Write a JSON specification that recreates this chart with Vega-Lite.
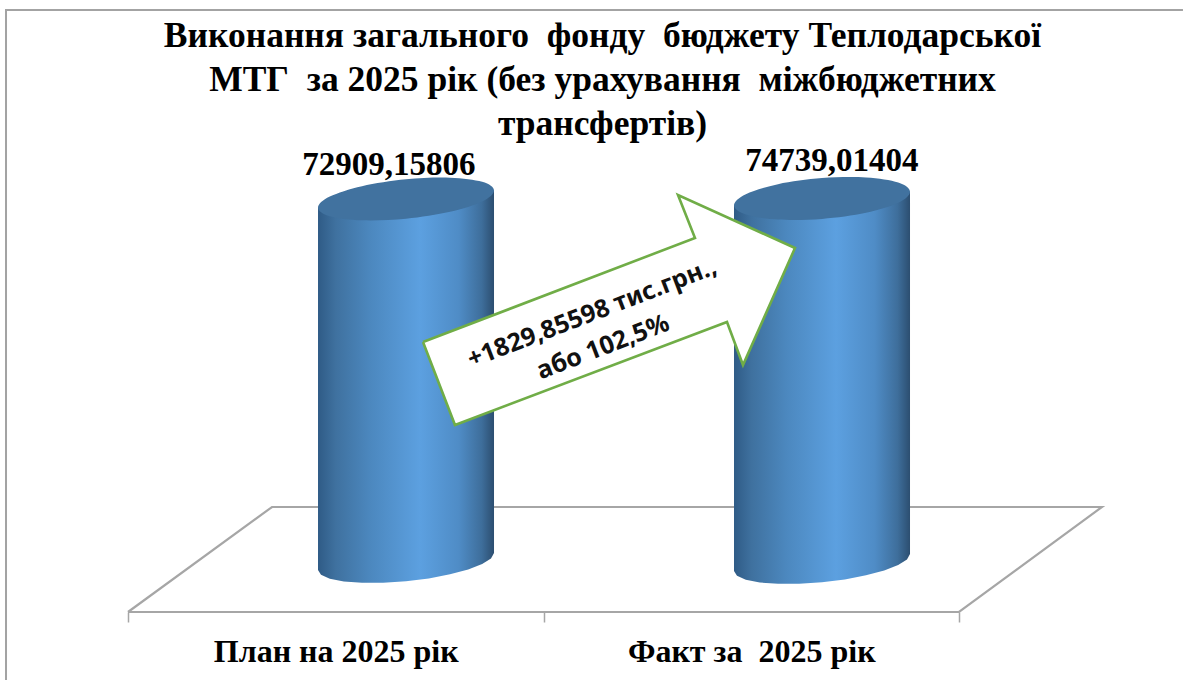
{
"$schema":"https://vega.github.io/schema/vega-lite/v6.json",
"width":831,"height":462,"autosize":{"type":"none"},
"padding":{"left":128,"right":224,"top":150,"bottom":68},
"background":"white",
"title":{"text":["Виконання загального\u00a0 фонду\u00a0 бюджету Теплодарської","МТГ\u00a0 за 2025 рік (без урахування\u00a0 міжбюджетних","трансфертів)"],"font":"Liberation Serif","fontSize":35.5,"fontWeight":"bold","color":"#000000","lineHeight":44,"anchor":"middle","frame":"group","dx":59,"dy":137,"offset":0},
"config":{"view":{"stroke":null}},
"datasets":{
"frame":[{"u":-0.2936,"v":-23570,"seq":1},{"u":-0.2936,"v":110832,"seq":2},{"u":2.539,"v":110832,"seq":3}],
"floor":[{"u":0,"v":-9930,"seq":1},{"u":0.3466,"v":11133,"seq":2},{"u":2.344,"v":11133,"seq":3},{"u":2,"v":-9930,"seq":4},{"u":0,"v":-9930,"seq":5}],
"bodies":[
{"part":"План","seq":1,"u":0.4573,"v":71213},{"part":"План","seq":2,"u":0.8809,"v":74623},{"part":"План","seq":3,"u":0.8809,"v":1906},{"part":"План","seq":4,"u":0.8736,"v":822},{"part":"План","seq":5,"u":0.8524,"v":-301},{"part":"План","seq":6,"u":0.8188,"v":-1394},{"part":"План","seq":7,"u":0.775,"v":-2377},{"part":"План","seq":8,"u":0.724,"v":-3190},{"part":"План","seq":9,"u":0.6691,"v":-3761},{"part":"План","seq":10,"u":0.6142,"v":-4072},{"part":"План","seq":11,"u":0.5632,"v":-4082},{"part":"План","seq":12,"u":0.5194,"v":-3811},{"part":"План","seq":13,"u":0.4857,"v":-3260},{"part":"План","seq":14,"u":0.4645,"v":-2467},{"part":"План","seq":15,"u":0.4573,"v":-1505},{"part":"План","seq":16,"u":0.4573,"v":71213},
{"part":"Факт","seq":1,"u":1.4585,"v":71664},{"part":"Факт","seq":2,"u":1.8821,"v":74372},{"part":"Факт","seq":3,"u":1.8821,"v":1706},{"part":"Факт","seq":4,"u":1.8748,"v":622},{"part":"Факт","seq":5,"u":1.8536,"v":-501},{"part":"Факт","seq":6,"u":1.82,"v":-1594},{"part":"Факт","seq":7,"u":1.7762,"v":-2577},{"part":"Факт","seq":8,"u":1.7252,"v":-3390},{"part":"Факт","seq":9,"u":1.6703,"v":-3961},{"part":"Факт","seq":10,"u":1.6154,"v":-4272},{"part":"Факт","seq":11,"u":1.5644,"v":-4282},{"part":"Факт","seq":12,"u":1.5206,"v":-4011},{"part":"Факт","seq":13,"u":1.4869,"v":-3460},{"part":"Факт","seq":14,"u":1.4657,"v":-2667},{"part":"Факт","seq":15,"u":1.4585,"v":-1705},{"part":"Факт","seq":16,"u":1.4585,"v":71664}
],
"tops":[
{"part":"План","seq":1,"u":0.8809,"v":74623},{"part":"План","seq":2,"u":0.8524,"v":76376},{"part":"План","seq":3,"u":0.775,"v":77201},{"part":"План","seq":4,"u":0.6691,"v":76880},{"part":"План","seq":5,"u":0.5632,"v":75496},{"part":"План","seq":6,"u":0.4857,"v":73420},{"part":"План","seq":7,"u":0.4573,"v":71213},{"part":"План","seq":8,"u":0.4857,"v":69460},{"part":"План","seq":9,"u":0.5632,"v":68635},{"part":"План","seq":10,"u":0.6691,"v":68956},{"part":"План","seq":11,"u":0.775,"v":70340},{"part":"План","seq":12,"u":0.8524,"v":72417},
{"part":"Факт","seq":1,"u":1.8821,"v":74372},{"part":"Факт","seq":2,"u":1.8537,"v":76238},{"part":"Факт","seq":3,"u":1.7762,"v":77241},{"part":"Факт","seq":4,"u":1.6703,"v":77111},{"part":"Факт","seq":5,"u":1.5644,"v":75887},{"part":"Факт","seq":6,"u":1.487,"v":73891},{"part":"Факт","seq":7,"u":1.4585,"v":71664},{"part":"Факт","seq":8,"u":1.487,"v":69799},{"part":"Факт","seq":9,"u":1.5644,"v":68796},{"part":"Факт","seq":10,"u":1.6703,"v":68926},{"part":"Факт","seq":11,"u":1.7762,"v":70150},{"part":"Факт","seq":12,"u":1.8537,"v":72146}
],
"arrow":[{"seq":1,"u":0.71,"v":44232},{"seq":2,"u":1.3646,"v":65095},{"seq":3,"u":1.3237,"v":73721},{"seq":4,"u":1.6053,"v":63089},{"seq":5,"u":1.4801,"v":39619},{"seq":6,"u":1.4416,"v":48244},{"seq":7,"u":0.787,"v":27583},{"seq":8,"u":0.71,"v":44232}],
"arrowText":[{"u":1.1167,"v":50050,"label":"+1829,85598 тис.грн.,"},{"u":1.1432,"v":43229,"label":"або 102,5%"}],
"labels":[{"category":"План на 2025 рік","value":72909.15806,"label":"72909,15806","u":0.6281,"v":77733},{"category":"Факт за  2025 рік","value":74739.01404,"label":"74739,01404","u":1.6943,"v":78536}]
},
"encoding":{
"x":{"field":"u","type":"quantitative","scale":{"domain":[0,2],"nice":false,"zero":false},"axis":{"title":null,"values":[0,0.5,1,1.5,2],"grid":false,"domain":false,"tickSize":10,"tickColor":"#a6a6a6","tickWidth":1.5,"tickOpacity":{"condition":{"test":"datum.value==0.5||datum.value==1.5","value":0},"value":1},"labelExpr":"datum.value==0.5?'План на 2025 рік':datum.value==1.5?'Факт за\u00a0 2025 рік':''","labelFont":"Liberation Serif","labelFontSize":32,"labelFontWeight":"bold","labelColor":"#000000","labelPadding":14,"labelOverlap":false,"labelFlush":false,"labelBound":false,"labelLimit":500}},
"y":{"field":"v","type":"quantitative","scale":{"domain":[-9930,82747],"nice":false,"zero":false},"axis":null}
},
"layer":[
{"data":{"name":"frame"},"mark":{"type":"line","color":"#a3a3a3","strokeWidth":2,"clip":false},"encoding":{"order":{"field":"seq"}}},
{"data":{"name":"floor"},"mark":{"type":"line","color":"#a6a6a6","strokeWidth":2.2,"strokeJoin":"miter"},"encoding":{"order":{"field":"seq"}}},
{"data":{"name":"bodies"},"mark":{"type":"line","strokeWidth":0,"fill":{"gradient":"linear","x1":0,"y1":0,"x2":1,"y2":0,"stops":[{"offset":0,"color":"#2f5b86"},{"offset":0.1,"color":"#3f719f"},{"offset":0.3,"color":"#4c88bf"},{"offset":0.58,"color":"#5ca0e0"},{"offset":0.8,"color":"#4f8cc6"},{"offset":0.93,"color":"#3e6e9b"},{"offset":1,"color":"#2c4e70"}]}},"encoding":{"detail":{"field":"part"},"order":{"field":"seq"}}},
{"data":{"name":"tops"},"mark":{"type":"line","interpolate":"cardinal-closed","strokeWidth":0,"fill":"#41729f"},"encoding":{"detail":{"field":"part"},"order":{"field":"seq"}}},
{"data":{"name":"labels"},"mark":{"type":"text","font":"Liberation Serif","fontSize":33,"fontWeight":"bold","color":"#000000","baseline":"alphabetic","align":"center"},"encoding":{"text":{"field":"label"}}},
{"data":{"name":"arrow"},"mark":{"type":"line","fill":"#ffffff","color":"#70ad47","strokeWidth":2.6,"strokeJoin":"miter"},"encoding":{"order":{"field":"seq"}}},
{"data":{"name":"arrowText"},"mark":{"type":"text","font":"Noto Sans","fontSize":25,"fontWeight":"bold","color":"#111111","angle":-21,"baseline":"middle","align":"center"},"encoding":{"text":{"field":"label"}}}
]
}
